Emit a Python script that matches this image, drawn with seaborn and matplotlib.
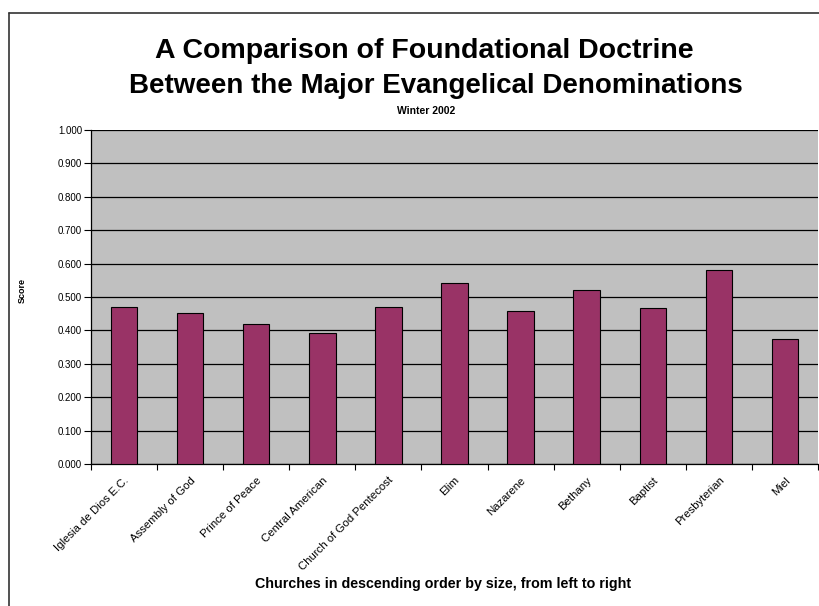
import matplotlib
matplotlib.use("Agg")
import matplotlib.pyplot as plt
import seaborn as sns
import pandas as pd

churches = ["Iglesia de Dios E.C.", "Assembly of God", "Prince of Peace",
            "Central American", "Church of God Pentecost", "Elim", "Nazarene",
            "Bethany", "Baptist", "Presbyterian", "Miel"]
scores = [0.470, 0.452, 0.419, 0.392, 0.470, 0.542, 0.457, 0.522, 0.467, 0.580, 0.375]
yticks = [0.0, 0.1, 0.2, 0.3, 0.4, 0.5, 0.6, 0.7, 0.8, 0.9, 1.0]

df = pd.DataFrame({"Church": churches, "Score": scores})

sns.set_style("white")
plt.rcParams["font.family"] = ["Liberation Sans", "DejaVu Sans"]
plt.rcParams["text.color"] = "black"
plt.rcParams["axes.labelcolor"] = "black"
plt.rcParams["xtick.color"] = "black"
plt.rcParams["ytick.color"] = "black"

fig = plt.figure(figsize=(8.19, 6.06), dpi=100)
ax = fig.add_axes([91 / 819, 1 - 464 / 606, 727 / 819, 334 / 606])
ax.set_facecolor("#c0c0c0")

sns.barplot(data=df, x="Church", y="Score", color="#993366", saturation=1,
            edgecolor="black", linewidth=0.8, width=0.4, ax=ax, zorder=3)

ax.set_ylim(0, 1)
ax.set_xlim(-0.5, len(churches) - 0.5)
ax.set_yticks(yticks)
ax.set_yticklabels([f"{v:.3f}" for v in yticks], fontsize=7)
ax.yaxis.grid(True, color="black", linewidth=0.9, zorder=0)
ax.set_axisbelow(True)
# category boundaries get the ticks, names sit under the bars
ax.set_xticks([i - 0.5 for i in range(len(churches) + 1)], minor=False)
ax.set_xticklabels([])
ax.set_xticks(range(len(churches)), minor=True)
ax.set_xticklabels(churches, minor=True, rotation=45, ha="right",
                   rotation_mode="anchor", fontsize=8.2)
ax.tick_params(axis="x", which="major", length=4, width=0.8, direction="out", bottom=True)
ax.tick_params(axis="x", which="minor", length=0, pad=8)
ax.tick_params(axis="y", length=5, width=0.8, direction="out", left=True, pad=1.5)

for side in ["top", "right"]:
    ax.spines[side].set_visible(False)
ax.spines["left"].set_color("black")
ax.spines["bottom"].set_color("black")
ax.spines["left"].set_linewidth(0.9)
ax.spines["bottom"].set_linewidth(0.9)

ax.set_xlabel("Churches in descending order by size, from left to right",
              fontsize=10.3, fontweight="bold")
ax.xaxis.set_label_coords(0.484, -0.338)
ax.set_ylabel("Score", fontsize=6.5, fontweight="bold")
ax.yaxis.set_label_coords(-0.088, 0.52)

fig.text(0.518, 1 - 51 / 606, "A Comparison of Foundational Doctrine",
         ha="center", va="center", fontsize=20.5, fontweight="bold")
fig.text(0.532, 1 - 86 / 606, "Between the Major Evangelical Denominations",
         ha="center", va="center", fontsize=20, fontweight="bold")
fig.text(0.52, 1 - 111 / 606, "Winter 2002",
         ha="center", va="center", fontsize=7.5, fontweight="bold")

fig.add_artist(plt.Line2D([8.5 / 819, 8.5 / 819], [0, 1 - 13 / 606],
                          color="#333333", linewidth=1.2))
fig.add_artist(plt.Line2D([8.5 / 819, 1], [1 - 13 / 606, 1 - 13 / 606],
                          color="#333333", linewidth=1.2))

fig.savefig("out.png", dpi=100)
